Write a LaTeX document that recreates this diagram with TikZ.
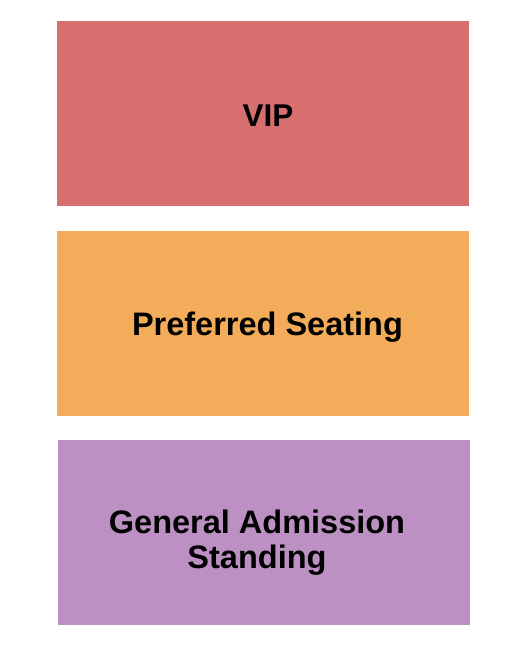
\documentclass[tikz,border=0pt]{standalone}
\usepackage{fontspec}
\setmainfont{Liberation Sans}
\definecolor{vipc}{HTML}{D76F6E}
\definecolor{prefc}{HTML}{F3AD5A}
\definecolor{gac}{HTML}{BD90C3}
\begin{document}
\begin{tikzpicture}[x=1pt,y=-1pt,
  zone/.style={draw=none,inner sep=0pt,minimum width=412pt,minimum height=185pt,anchor=north west},
  lbl/.style={font=\bfseries\fontsize{32.5}{35}\selectfont,inner sep=0pt,anchor=base,text=black}]
\useasboundingbox (0,0) rectangle (525,650);
\fill[white] (0,0) rectangle (525,650);
\node[zone,fill=vipc] (vip) at (57,21) {};
\node[zone,fill=prefc] (pref) at (57,231) {};
\node[zone,fill=gac] (ga) at (58,440) {};
\node[lbl,font=\bfseries\fontsize{31.5}{35}\selectfont] (viplbl) at (268,126) {VIP};
\node[lbl] (preflbl) at (267.5,335) {Preferred Seating};
\node[lbl] (galbl1) at (257,533) {General Admission};
\node[lbl] (galbl2) at (257,568) {Standing};
\end{tikzpicture}
\end{document}
